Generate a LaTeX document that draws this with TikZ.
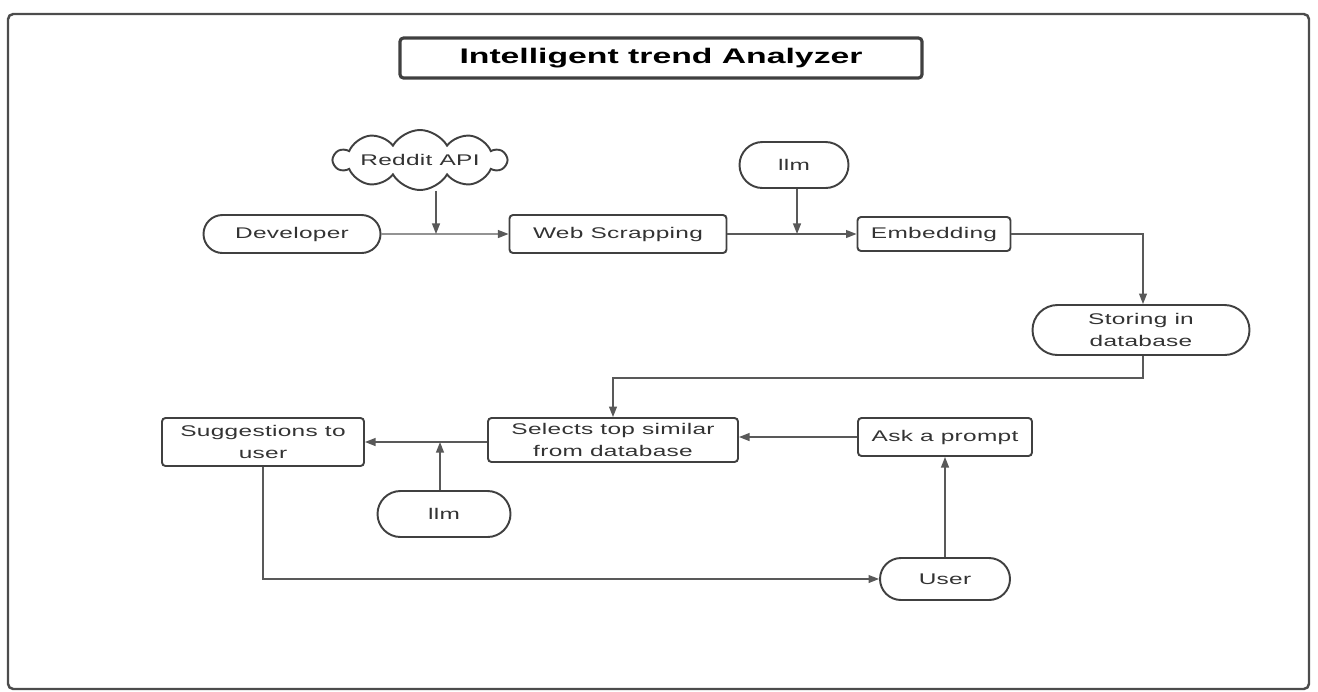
\documentclass[tikz,border=0pt]{standalone}
\usepackage{fontspec}
\setmainfont{Liberation Sans}[FakeStretch=1.58,LetterSpace=2]
\newfontfamily\titlefont{Liberation Sans}[FakeStretch=1.6]
\usetikzlibrary{shapes.symbols,shapes.misc,arrows.meta}
\newcommand{\px}{0.02cm}

\begin{document}
\begin{tikzpicture}[x=\px,y=-\px,
  every node/.style={text=black!80,font=\fontsize{8.8}{13}\selectfont,align=center,inner sep=0pt},
  step box/.style={draw=black!75,line width=1.1pt,rounded corners=2pt,rectangle},
  pill/.style={draw=black!75,line width=1.1pt,rounded rectangle},
  flow/.style={draw=black!65,line width=0.8pt},
  arr/.style={flow,-{Triangle[length=6pt,width=4.5pt]}}]
 \useasboundingbox (0,0) rectangle (1318,691);
 % frame and heading
 \draw[black!70,line width=1.4pt,rounded corners=3pt] (8,14) rectangle (1309,689);
 \node[step box,line width=1.8pt,minimum width=522*\px,minimum height=40*\px,font=\titlefont\bfseries\fontsize{12}{14}\selectfont,text=black] (title) at (661,58) {Intelligent trend Analyzer};

 % collecting and storing posts
 \node[cloud,cloud puffs=10,cloud puff arc=120,cloud ignores aspect,draw=black!75,line width=1.1pt,minimum width=172*\px,minimum height=60*\px] (reddit) at (420,160) {Reddit API};
 \node[pill,minimum width=177*\px,minimum height=38*\px] (dev) at (292,234) {Developer};
 \node[step box,minimum width=217*\px,minimum height=38*\px] (scrap) at (618,234) {Web Scrapping};
 \node[pill,minimum width=109*\px,minimum height=46*\px] (llmA) at (794,165) {llm};
 \node[step box,minimum width=153*\px,minimum height=34*\px] (embed) at (934,234) {Embedding};
 \node[pill,minimum width=217*\px,minimum height=50*\px] (store) at (1141,330) {Storing in\\database};

 % answering a prompt
 \node[step box,minimum width=250*\px,minimum height=44*\px] (select) at (613,440) {Selects top similar\\from database};
 \node[step box,minimum width=174*\px,minimum height=38*\px] (ask) at (945,437) {Ask a prompt};
 \node[step box,minimum width=202*\px,minimum height=48*\px] (sugg) at (263,442) {Suggestions to\\user};
 \node[pill,minimum width=133*\px,minimum height=46*\px] (llmB) at (444,514) {llm};
 \node[pill,minimum width=130*\px,minimum height=42*\px] (user) at (945,579) {User};

 \coordinate (jr) at (436,234);
 \coordinate (jl) at (797,234);
 \coordinate (jb) at (440,442);
 \coordinate (bend) at (1143,378);

 \draw[arr] (dev) -- (scrap);
 \draw[arr] (reddit.south -| jr) -- (jr);
 \draw[arr] (scrap) -- (embed);
 \draw[arr] (llmA.south -| jl) -- (jl);
 \draw[arr] (embed.east) -| (store.north -| bend);
 \draw[arr] (store.south -| bend) -- (bend) -| (select.north);
 \draw[arr] (ask.west) -- (ask.west -| select.east);
 \draw[arr] (select.west |- sugg) -- (sugg.east);
 \draw[arr] (llmB.north -| jb) -- (jb);
 \draw[arr] (sugg.south) |- (user.west);
 \draw[arr] (user.north) -- (ask.south);
\end{tikzpicture}
\end{document}
